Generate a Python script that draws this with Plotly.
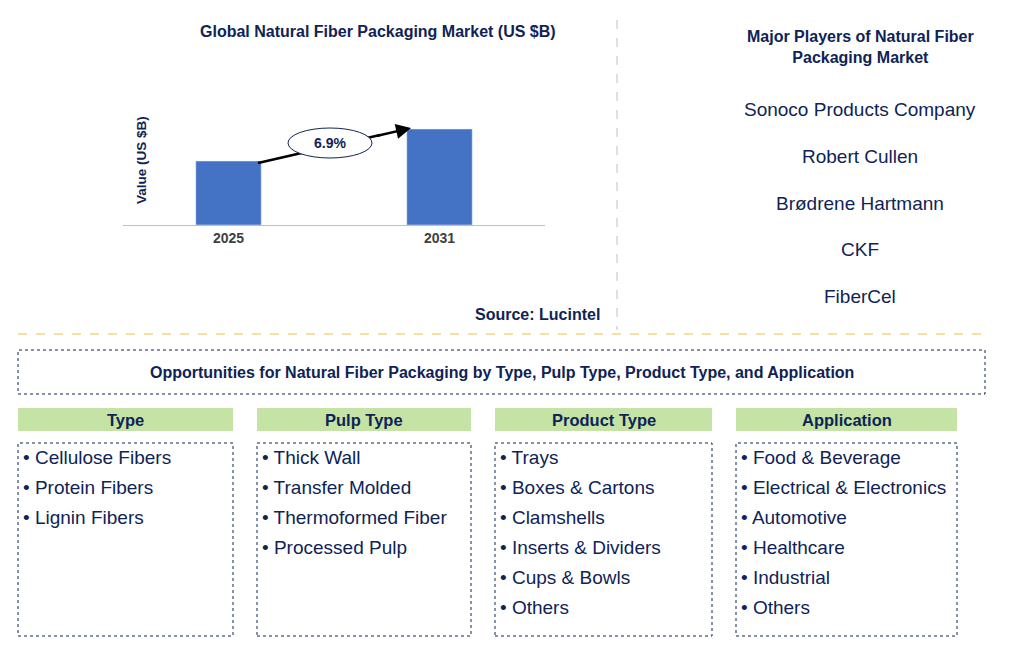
import plotly.graph_objects as go

W, H = 1009, 661
years = ["2025", "2031"]
values = [6.4, 9.6]
cagr = "6.9%"
players = ["Sonoco Products Company", "Robert Cullen", "Brødrene Hartmann", "CKF", "FiberCel"]
seg_titles = ["Type", "Pulp Type", "Product Type", "Application"]
seg_items = [
    ["Cellulose Fibers", "Protein Fibers", "Lignin Fibers"],
    ["Thick Wall", "Transfer Molded", "Thermoformed Fiber", "Processed Pulp"],
    ["Trays", "Boxes & Cartons", "Clamshells", "Inserts & Dividers", "Cups & Bowls", "Others"],
    ["Food & Beverage", "Electrical & Electronics", "Automotive", "Healthcare", "Industrial", "Others"],
]

NAVY = "#0f2356"
OFF = 8
def px(x): return (x - OFF) / W
def py(y): return 1 - (y - OFF) / H

fig = go.Figure(go.Bar(x=years, y=values, marker_color="#4472c4", width=0.31))
fig.update_layout(
    width=W, height=H, margin=dict(l=0, r=0, t=0, b=0),
    paper_bgcolor="white", plot_bgcolor="white", showlegend=False,
    font=dict(family="Liberation Sans, Arial", color=NAVY),
    xaxis=dict(domain=[px(123), px(545)], showline=True, linecolor="#bfbfbf",
               tickfont=dict(size=14, color="#404040", family="Liberation Sans"), ticks="",
               range=[-0.5, 1.5], fixedrange=True, tickprefix="<b>", ticksuffix="</b>"),
    yaxis=dict(domain=[py(225), py(95)], range=[0, 13], showticklabels=False,
               showgrid=False, zeroline=False, fixedrange=True),
)

shapes = []
ann = []
def text(x, y, s, size=14, bold=False, color=NAVY, xanchor="center", angle=0):
    ann.append(dict(x=px(x), y=py(y), xref="paper", yref="paper", text=f"<b>{s}</b>" if bold else s,
                    showarrow=False, font=dict(size=size, color=color), xanchor=xanchor,
                    yanchor="middle", textangle=angle))
def rect(x0, y0, x1, y1, fill=None, line=None, dash=None, width=1):
    shapes.append(dict(type="rect", xref="paper", yref="paper", x0=px(x0), x1=px(x1), y0=py(y1), y1=py(y0),
                       fillcolor=fill or "rgba(0,0,0,0)",
                       line=dict(color=line or "rgba(0,0,0,0)", width=width if line else 0, dash=dash)))

text(378, 31, "Global Natural Fiber Packaging Market (US $B)", 16, True)
text(141, 160, "Value (US $B)", 13.5, True, angle=-90)
text(537, 314, "Source: Lucintel", 16, True)

# arrow: body as shape under ellipse, head as annotation
shapes.append(dict(type="line", xref="paper", yref="paper", x0=px(258), y0=py(163), x1=px(380), y1=py(135),
                   line=dict(color="black", width=2.5), layer="above"))
shapes.append(dict(type="circle", xref="paper", yref="paper", x0=px(288), x1=px(372), y0=py(158), y1=py(128),
                   fillcolor="white", line=dict(color=NAVY, width=1), layer="above"))
ann.append(dict(x=px(411), y=py(128), ax=-35, ay=8, xref="paper", yref="paper",
                axref="pixel", ayref="pixel", showarrow=True, arrowhead=2, arrowsize=1.2,
                arrowwidth=2.5, arrowcolor="black", text=""))
text(330, 143, cagr, 14, True)

shapes.append(dict(type="line", xref="paper", yref="paper", x0=px(617), x1=px(617), y0=py(20), y1=py(330),
                   line=dict(color="#c0c0c0", width=1, dash="dash")))
shapes.append(dict(type="line", xref="paper", yref="paper", x0=px(18), x1=px(985), y0=py(334), y1=py(334),
                   line=dict(color="#f0c040", width=1, dash="dash")))

text(860, 47, "Major Players of Natural Fiber<br>Packaging Market", 16, True)
for i, p in enumerate(players):
    text(860, 110 + i * 46.5, p, 19)

rect(18, 350, 985, 394, line=NAVY, dash="dot")
text(502, 372, "Opportunities for Natural Fiber Packaging by Type, Pulp Type, Product Type, and Application", 16, True)

cols = [(18, 233), (257, 471), (495, 712), (736, 957)]
for (x0, x1), t, items in zip(cols, seg_titles, seg_items):
    rect(x0, 408, x1, 431, fill="#c5e3a5")
    text((x0 + x1) / 2, 419.5, t, 16.5, True)
    rect(x0, 443, x1, 636, line=NAVY, dash="dot")
    for j, it in enumerate(items):
        text(x0 + 3, 457 + j * 30, "• " + it, 19, xanchor="left")

fig.update_layout(shapes=shapes, annotations=ann)
fig.write_html("out.html")
